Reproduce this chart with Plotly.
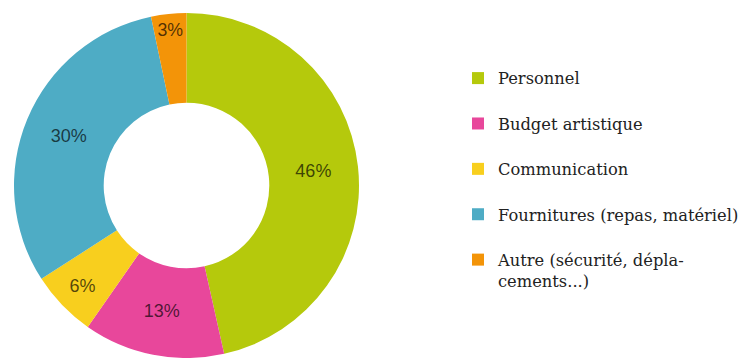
import plotly.graph_objects as go

# Data
categories = ["Personnel", "Budget artistique", "Communication",
              "Fournitures (repas, matériel)", "Autre (sécurité, dépla-<br>cements...)"]
values = [46.5, 13.2, 6.2, 30.8, 3.3]
shown_percent = ["46%", "13%", "6%", "30%", "3%"]
colors = ["#b5c90c", "#e8479b", "#f8cf1e", "#4eacc5", "#f39408"]

legend_labels = [c if "<br>" in c else c + "<br> " for c in categories]

# the page body keeps its default 8px margin, so the figure is 8px smaller
W, H = 744, 350
cx, top = 178.5, 5
d = H - top

fig = go.Figure(go.Pie(
    labels=legend_labels,
    values=values,
    text=shown_percent,
    textinfo="text",
    textposition="inside",
    insidetextorientation="horizontal",
    insidetextfont=dict(family="Liberation Sans, Arial, sans-serif", size=18,
                        color="rgba(0,0,0,0.68)"),
    marker=dict(colors=colors, line=dict(width=0)),
    hole=0.48,
    sort=False,
    direction="clockwise",
    rotation=0,
    domain=dict(x=[(cx - d / 2) / W, (cx + d / 2) / W], y=[0, 1 - top / H]),
    hoverinfo="label+text",
))

fig.update_layout(
    width=W, height=H,
    margin=dict(l=0, r=0, t=0, b=0),
    paper_bgcolor="white",
    plot_bgcolor="white",
    showlegend=True,
    legend=dict(
        x=450 / W, xanchor="left",
        y=1 - 53 / H, yanchor="top",
        font=dict(family="DejaVu Serif, serif", size=16.3, color="#222222"),
        valign="top",
        itemwidth=30,
        bgcolor="rgba(0,0,0,0)",
    ),
)

fig.write_html("out.html")
